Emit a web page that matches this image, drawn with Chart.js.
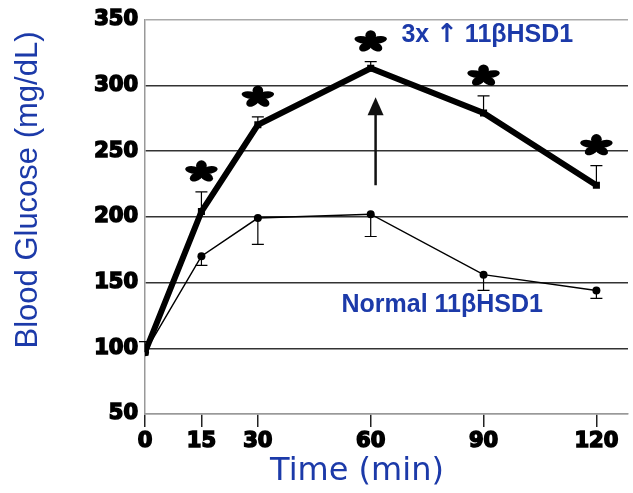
<!DOCTYPE html>
<html>
<head>
<meta charset="utf-8">
<script src="https://cdn.jsdelivr.net/npm/chart.js@4/dist/chart.umd.min.js"></script>
<style>
  html, body { margin: 0; padding: 0; background: #fff; }
  #wrap { width: 633px; height: 493px; }
</style>
</head>
<body>
<div id="wrap"><canvas id="myChart" width="633" height="493"></canvas></div>
<script>
const times = [0, 15, 30, 60, 90, 120];
const xTicks = [0, 15, 30, 60, 90, 120];
const yTicks = [50, 100, 150, 200, 250, 300, 350];
const highGlucose = [97, 204, 270, 313, 279, 224];   // 3x 11bHSD1
const highSem = [8, 15, 6, 5, 13, 15];
const normalGlucose = [97, 170, 199, 202, 156, 144]; // normal 11bHSD1
const normalSem = [0, 7, 20, 17, 12, 6];
const significant = [false, true, true, true, true, true];

const blue = "#1c3aa9";

function toPoints(vals){
    return times.map((t, i) => ({x: t, y: vals[i]}));
}

// draws a filled five petal asterisk (a bit wider than tall, like the scan)
function drawStar(ctx, cx, cy){
    ctx.save();
    ctx.translate(cx, cy);
    ctx.scale(1.25, 0.85);
    ctx.fillStyle = "#000";
    for (let k = 0; k < 5; k++){
        const a = -Math.PI / 2 + k * 2 * Math.PI / 5;
        ctx.beginPath();
        ctx.ellipse(Math.cos(a) * 7, Math.sin(a) * 7, 6.5, 4.3, a, 0, Math.PI * 2);
        ctx.fill();
    }
    ctx.beginPath();
    ctx.arc(0, 0, 3.5, 0, Math.PI * 2);
    ctx.fill();
    ctx.restore();
}

const extras = {
    id: "extras",
    beforeDatasetsDraw(chart){
        const ctx = chart.ctx;
        const xs = chart.scales.x, ys = chart.scales.y;
        ctx.save();
        ctx.strokeStyle = "#000";
        ctx.lineWidth = 1.2;
        times.forEach((t, i) => {
            const px = xs.getPixelForValue(t);
            // high series: upper bars
            if (highSem[i] > 0){
                const y0 = ys.getPixelForValue(highGlucose[i]);
                const y1 = ys.getPixelForValue(highGlucose[i] + highSem[i]);
                ctx.beginPath();
                ctx.moveTo(px, y0); ctx.lineTo(px, y1);
                ctx.moveTo(px - 6, y1); ctx.lineTo(px + 6, y1);
                ctx.stroke();
            }
            // normal series: lower bars
            if (normalSem[i] > 0){
                const y0 = ys.getPixelForValue(normalGlucose[i]);
                const y1 = ys.getPixelForValue(normalGlucose[i] - normalSem[i]);
                ctx.beginPath();
                ctx.moveTo(px, y0); ctx.lineTo(px, y1);
                ctx.moveTo(px - 6, y1); ctx.lineTo(px + 6, y1);
                ctx.stroke();
            }
        });
        ctx.restore();
    },
    afterDatasetsDraw(chart){
        const ctx = chart.ctx;
        const xs = chart.scales.x, ys = chart.scales.y;
        // asterisks above the error bars
        times.forEach((t, i) => {
            if (!significant[i]) return;
            const px = xs.getPixelForValue(t);
            const top = ys.getPixelForValue(highGlucose[i] + highSem[i]);
            drawStar(ctx, px, top - 20);
        });

        // arrow at 60 min
        const ax = xs.getPixelForValue(61.3);
        const aBottom = ys.getPixelForValue(224);
        const aTip = ys.getPixelForValue(291);
        ctx.save();
        ctx.strokeStyle = "#111";
        ctx.fillStyle = "#111";
        ctx.lineWidth = 2.5;
        ctx.beginPath();
        ctx.moveTo(ax, aBottom); ctx.lineTo(ax, aTip + 14);
        ctx.stroke();
        ctx.beginPath();
        ctx.moveTo(ax, aTip);
        ctx.lineTo(ax - 8, aTip + 18);
        ctx.lineTo(ax + 8, aTip + 18);
        ctx.closePath();
        ctx.fill();

        // series labels
        ctx.fillStyle = blue;
        ctx.textBaseline = "middle";
        const labelFont = "bold 25px 'Liberation Sans', Arial, sans-serif";
        const arrowFont = "bold 26px 'DejaVu Sans', sans-serif";
        const parts = [["3x ", labelFont], ["\u2191", arrowFont], [" 11\u03b2HSD1", labelFont]];
        let total = 0;
        parts.forEach(p => { ctx.font = p[1]; total += ctx.measureText(p[0]).width; });
        let lx = xs.getPixelForValue(91) - total / 2;
        const ly = ys.getPixelForValue(338);
        ctx.textAlign = "left";
        parts.forEach(p => {
            ctx.font = p[1];
            ctx.fillText(p[0], lx, ly);
            lx += ctx.measureText(p[0]).width;
        });
        ctx.textAlign = "center";
        ctx.font = labelFont;
        ctx.fillText("Normal 11\u03b2HSD1", xs.getPixelForValue(79), ys.getPixelForValue(133));

        // axis titles
        ctx.font = "31px 'Liberation Sans', Arial, sans-serif";
        ctx.save();
        ctx.translate(28, 190);
        ctx.rotate(-Math.PI / 2);
        ctx.fillText("Blood Glucose (mg/dL)", 0, 0);
        ctx.restore();
        ctx.font = "32px 'DejaVu Sans', sans-serif";
        ctx.fillText("Time (min)", 357, 472);
        ctx.restore();
    }
};

const tickFont = {family: "'DejaVu Sans', sans-serif", size: 21, weight: "bold"};

new Chart(document.getElementById("myChart"), {
    type: "line",
    data: {
        datasets: [
            {
                label: "3x 11bHSD1",
                data: toPoints(highGlucose),
                borderColor: "#000",
                backgroundColor: "#000",
                borderWidth: 6,
                pointStyle: "rect",
                pointRadius: 5,
                pointBorderWidth: 0,
                tension: 0
            },
            {
                label: "Normal 11bHSD1",
                data: toPoints(normalGlucose),
                borderColor: "#000",
                backgroundColor: "#000",
                borderWidth: 1.5,
                pointStyle: "circle",
                pointRadius: 4,
                pointBorderWidth: 0,
                tension: 0
            }
        ]
    },
    plugins: [extras],
    options: {
        responsive: false,
        animation: false,
        layout: {padding: {top: 17, right: 0, left: 0, bottom: 0}},
        plugins: {legend: {display: false}, tooltip: {enabled: false}},
        scales: {
            x: {
                type: "linear",
                min: 0,
                max: 128.4,
                afterBuildTicks: (scale) => { scale.ticks = xTicks.map(v => ({value: v})); },
                afterFit: (scale) => { scale.height = 79; },
                ticks: {color: "#000", font: tickFont, padding: 2, maxRotation: 0, autoSkip: false,
                        textStrokeColor: "#000", textStrokeWidth: 1.6},
                grid: {drawOnChartArea: false, color: "#222", tickLength: 13, lineWidth: 1.5},
                border: {display: true, color: "#999", width: 1.5}
            },
            y: {
                min: 50,
                max: 350,
                afterBuildTicks: (scale) => { scale.ticks = yTicks.map(v => ({value: v})); },
                afterFit: (scale) => { scale.width = 145; },
                ticks: {color: "#000", font: tickFont, padding: 7,
                        textStrokeColor: "#000", textStrokeWidth: 1.6},
                grid: {
                    color: (c) => (c.tick && (c.tick.value === 350 || c.tick.value === 50)) ? "#aaa" : "#333",
                    lineWidth: 1.5,
                    tickLength: 0
                },
                border: {display: true, color: "#999", width: 1.5}
            }
        }
    }
});
</script>
</body>
</html>
